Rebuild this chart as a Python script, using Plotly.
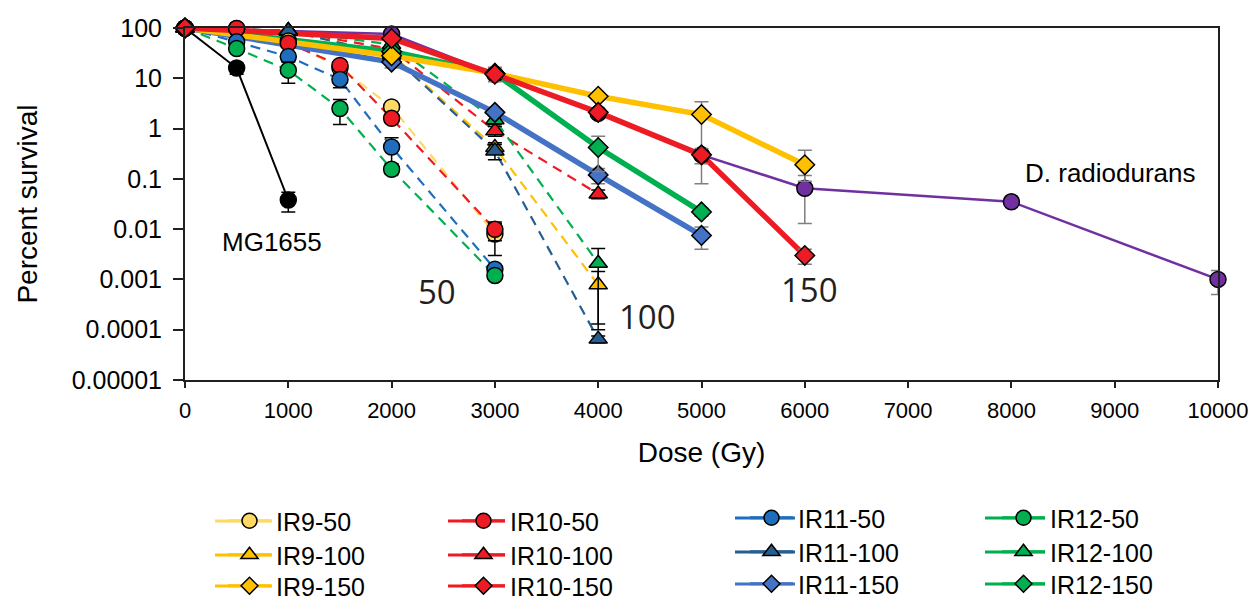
import plotly.graph_objects as go

# ---------------- data ----------------
dose_50 = [0, 500, 1000, 1500, 2000, 3000]
dose_100 = [0, 1000, 2000, 3000, 4000]
dose_150_a = [0, 2000, 3000, 4000, 5000, 6000]
dose_150_b = [0, 2000, 3000, 4000, 5000]
dose_mg = [0, 500, 1000]
dose_dr = [0, 2000, 3000, 4000, 5000, 6000, 8000, 10000]

ir9_50 = [100, 98, 55, 16, 2.7, 0.008]
ir10_50 = [100, 98, 50, 18, 1.6, 0.0099]
ir11_50 = [100, 53, 27, 9.5, 0.43, 0.0016]
ir12_50 = [100, 39, 14.5, 2.5, 0.155, 0.0012]

ir9_100 = [100, 88, 30, 0.42, 0.00078]
ir10_100 = [100, 88, 38, 0.9, 0.05]
ir11_100 = [100, 88, 29, 0.36, 0.000065]
ir12_100 = [100, 88, 47, 1.5, 0.0021]

ir9_150 = [100, 28, 12.5, 4.4, 1.9, 0.19]
ir10_150 = [100, 62, 12, 2.1, 0.3, 0.003]
ir11_150 = [100, 21, 2.1, 0.12, 0.0075]
ir12_150 = [100, 34, 12.5, 0.42, 0.022]

mg1655 = [100, 16, 0.038]
d_radiodurans = [100, 76, 12, 2.0, 0.3, 0.065, 0.035, 0.001]

# error bars (linear +/-)
err9_50 = [0, 0, 0, 0, 0.4, 0.005]
err10_50 = [0, 0, 0, 2, 0.3, 0.004]
err11_50 = [0, 5, 5, 3, 0.23, 0.0003]
err12_50 = [0, 5, 6.5, 1.3, 0.03, 0.0002]

err9_100 = [0, 0, 0, 0.1, 0.00065]
err10_100 = [0, 0, 0, 0.2, 0.01]
err11_100_plus = [0, 140, 0, 0.12, 0.00001]
err11_100_minus = [0, 20, 0, 0.12, 0.00001]
err12_100 = [0, 0, 0, 0.3, 0.002]

err9_150_plus = [0, 3, 2, 0.5, 1.5, 0.18]
err9_150_minus = [0, 3, 2, 0.5, 1.82, 0.1]
err10_150 = [0, 5, 2, 0.3, 0.1, 0.001]
err11_150 = [0, 5, 0.3, 0.04, 0.0035]
err12_150 = [0, 6, 4, 0.28, 0.004]

err_mg = [0, 4, 0.016]
err_dr = [0, 5, 2, 0.3, 0.05, 0.052, 0.004, 0.0005]

y_tick_vals = [1e-5, 1e-4, 1e-3, 1e-2, 1e-1, 1, 10, 100]
y_tick_text = ["0.00001", "0.0001", "0.001", "0.01", "0.1", "1", "10", "100"]
x_tick_vals = [0, 1000, 2000, 3000, 4000, 5000, 6000, 7000, 8000, 9000, 10000]
x_tick_text = ["0", "1000", "2000", "3000", "4000", "5000", "6000", "7000", "8000", "9000", "10000"]

# ---------------- styles ----------------
C_Y_LIGHT = "#FFD966"
C_Y = "#FFC000"
C_R = "#ED1C24"
C_B50 = "#1F6EBD"
C_B100 = "#255E91"
C_B150 = "#4472C4"
C_G = "#00B050"
C_P = "#7030A0"
C_K = "#000000"
ERR_K = "#000000"
ERR_G = "#7F7F7F"
FONT = "Liberation Sans, Arial, sans-serif"

# page offset (browser body margin) compensation
OFF = 8
W, H = 1257 - OFF, 598 - OFF
L, R, T, B = 185 - OFF, 39, 28 - OFF, 218
pw = W - L - R
ph = H - T - B
PLOT_LEFT_PAGE = 185
PLOT_BOTTOM_PAGE = 380


def pxx(page_x):
    return (page_x - PLOT_LEFT_PAGE) / pw


def pxy(page_y):
    return (PLOT_BOTTOM_PAGE - page_y) / ph


fig = go.Figure()

DASH = "10px,7px"

dashed_series = [
    (dose_50, ir9_50, C_Y_LIGHT),
    (dose_50, ir10_50, C_R),
    (dose_50, ir11_50, C_B50),
    (dose_50, ir12_50, C_G),
    (dose_100, ir9_100, C_Y),
    (dose_100, ir10_100, C_R),
    (dose_100, ir11_100, C_B100),
    (dose_100, ir12_100, C_G),
]
for xs, ys, c in dashed_series:
    fig.add_trace(go.Scatter(x=xs, y=ys, mode="lines", showlegend=False,
                             line=dict(color=c, width=2.2, dash=DASH),
                             hoverinfo="skip", cliponaxis=False))

fig.add_trace(go.Scatter(x=dose_mg, y=mg1655, mode="lines", showlegend=False,
                         line=dict(color=C_K, width=2), cliponaxis=False))
fig.add_trace(go.Scatter(x=dose_dr, y=d_radiodurans, mode="lines", showlegend=False,
                         line=dict(color=C_P, width=2.5), cliponaxis=False))

solid_series = [
    (dose_150_b, ir11_150, C_B150),
    (dose_150_b, ir12_150, C_G),
    (dose_150_a, ir9_150, C_Y),
    (dose_150_a, ir10_150, C_R),
]
for xs, ys, c in solid_series:
    fig.add_trace(go.Scatter(x=xs, y=ys, mode="lines", showlegend=False,
                             line=dict(color=c, width=5.5), cliponaxis=False))


def err(arr, color, minus=None):
    d = dict(type="data", array=arr, visible=True, color=color, thickness=1.5, width=7)
    if minus is not None:
        d["symmetric"] = False
        d["arrayminus"] = minus
    return d


MLINE = dict(color="#000000", width=1.5)

marker_series = [
    (dose_dr, d_radiodurans, C_P, "circle", 16, err(err_dr, ERR_G)),
    (dose_mg, mg1655, C_K, "circle", 16, err(err_mg, ERR_K)),
    (dose_100, ir9_100, C_Y, "triangle-up", 16, err(err9_100, ERR_K)),
    (dose_100, ir10_100, C_R, "triangle-up", 16, err(err10_100, ERR_K)),
    (dose_100, ir12_100, C_G, "triangle-up", 16, err(err12_100, ERR_K)),
    (dose_100, ir11_100, C_B100, "triangle-up", 16, err(err11_100_plus, ERR_K, err11_100_minus)),
    (dose_50, ir9_50, C_Y_LIGHT, "circle", 16, err(err9_50, ERR_K)),
    (dose_50, ir10_50, C_R, "circle", 16, err(err10_50, ERR_K)),
    (dose_50, ir11_50, C_B50, "circle", 16, err(err11_50, ERR_K)),
    (dose_50, ir12_50, C_G, "circle", 16, err(err12_50, ERR_K)),
    (dose_150_b, ir11_150, C_B150, "diamond", 15, err(err11_150, ERR_G)),
    (dose_150_b, ir12_150, C_G, "diamond", 15, err(err12_150, ERR_G)),
    (dose_150_a, ir9_150, C_Y, "diamond", 15, err(err9_150_plus, ERR_G, err9_150_minus)),
    (dose_150_a, ir10_150, C_R, "diamond", 15, err(err10_150, ERR_G)),
]
for xs, ys, c, sym, sz, e in marker_series:
    fig.add_trace(go.Scatter(x=xs, y=ys, mode="markers", showlegend=False,
                             marker=dict(color=c, symbol=sym, size=sz, line=MLINE),
                             error_y=e, cliponaxis=False))

# ---------------- legend (one legend box per entry) ----------------
legend_entries = [
    # name, color, symbol, size, marker page x, row page y, line start, line end
    ("IR9-50", C_Y_LIGHT, "circle", 15, 243, 521, 215, 272),
    ("IR9-100", C_Y, "triangle-up", 15, 243, 555, 215, 272),
    ("IR9-150", C_Y, "diamond", 13, 243, 586, 215, 272),
    ("IR10-50", C_R, "circle", 15, 477, 521, 448, 505),
    ("IR10-100", C_R, "triangle-up", 15, 477, 555, 448, 505),
    ("IR10-150", C_R, "diamond", 13, 477, 586, 448, 505),
    ("IR11-50", C_B50, "circle", 15, 765, 518, 735, 795),
    ("IR11-100", C_B100, "triangle-up", 15, 765, 552, 735, 795),
    ("IR11-150", C_B150, "diamond", 13, 765, 584, 735, 795),
    ("IR12-50", C_G, "circle", 15, 1017, 518, 985, 1045),
    ("IR12-100", C_G, "triangle-up", 15, 1017, 552, 985, 1045),
    ("IR12-150", C_G, "diamond", 13, 1017, 584, 985, 1045),
]

legend_layouts = {}
shapes = []
for i, (name, c, sym, sz, mx, ry, l0, l1) in enumerate(legend_entries):
    lg = "legend" if i == 0 else "legend%d" % (i + 1)
    fig.add_trace(go.Scatter(x=[None], y=[None], mode="lines+markers", name=name,
                             legend=lg, showlegend=True,
                             line=dict(color=c, width=3),
                             marker=dict(color=c, symbol=sym, size=sz, line=MLINE)))
    legend_layouts[lg] = dict(
        font=dict(family=FONT, size=25, color="#000000"), bgcolor="rgba(0,0,0,0)",
        xanchor="left", yanchor="middle", itemwidth=43,
        x=pxx(mx - 20), y=pxy(ry),
    )
    shapes.append(dict(type="line", xref="paper", yref="paper",
                       x0=pxx(l0), x1=pxx(l1), y0=pxy(ry), y1=pxy(ry),
                       line=dict(color=c, width=3), layer="below"))

# ---------------- layout ----------------
fig.update_layout(
    width=W, height=H,
    margin=dict(l=L, r=R, t=T, b=B, autoexpand=False),
    paper_bgcolor="white", plot_bgcolor="white",
    font=dict(family=FONT, color="#000000"),
    shapes=shapes,
    xaxis=dict(range=[0, 10000], tickvals=x_tick_vals, ticktext=x_tick_text,
               showgrid=False, zeroline=False,
               showline=True, linecolor="#231F20", linewidth=2, mirror=True,
               ticks="outside", ticklen=6, tickcolor="#231F20", tickwidth=1.5,
               ticklabelstandoff=4,
               tickfont=dict(family=FONT, size=22, color="#000000"),
               title=dict(text="Dose (Gy)", font=dict(family=FONT, size=28), standoff=20)),
    yaxis=dict(type="log", range=[-5, 2], tickvals=y_tick_vals, ticktext=y_tick_text,
               showgrid=False, zeroline=False,
               showline=True, linecolor="#231F20", linewidth=2, mirror=True,
               ticks="outside", ticklen=10, tickcolor="#231F20", tickwidth=1.5,
               ticklabelstandoff=6,
               tickfont=dict(family=FONT, size=25, color="#000000"),
               title=dict(text="Percent survival", font=dict(family=FONT, size=28), standoff=26)),
    **legend_layouts,
)

# ---------------- labels ----------------
NUMFONT = dict(family="Open Sans, Noto Sans, sans-serif", size=33, color="#231F20")
LBLFONT = dict(family=FONT, size=26, color="#000000")
annots = [
    ("MG1655", 842, -2.25, LBLFONT),
    ("50", 2435, -3.24, NUMFONT),
    ("100", 4482, -3.73, NUMFONT),
    ("150", 6050, -3.21, NUMFONT),
    ("D. radiodurans", 8955, -0.89, LBLFONT),
]
for text, xv, yv, f in annots:
    fig.add_annotation(x=xv, y=yv, xref="x", yref="y", text=text, showarrow=False,
                       font=f, xanchor="center", yanchor="middle")

fig.write_html("out.html")
